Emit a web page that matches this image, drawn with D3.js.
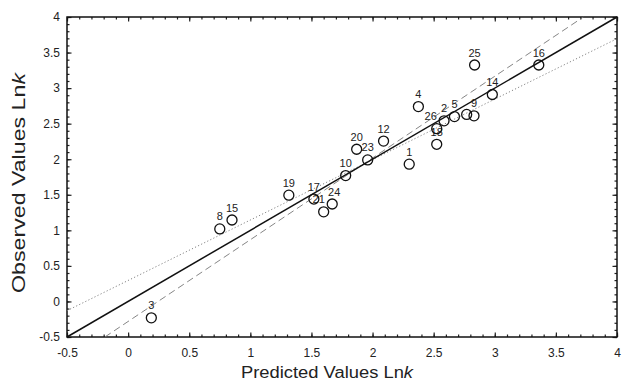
<!DOCTYPE html>
<html>
<head>
<meta charset="utf-8">
<script src="https://cdn.jsdelivr.net/npm/d3@7"></script>
<style>
  body { margin: 0; background: #fff; }
  svg { display: block; font-family: "Liberation Sans", Arial, sans-serif; }
  .tick text { fill: #222; }
</style>
</head>
<body>
<svg id="chart"></svg>
<script>
// point ids (label text), predicted Lnk (x), observed Lnk (y)
var ids       = ["1", "2", "3", "4", "5", "8", "9", "", "10", "12", "14", "15", "16", "17", "18", "19", "20", "21", "23", "24", "25", "26"];
var predicted = [2.30, 2.585, 0.19, 2.375, 2.67, 0.75, 2.83, 2.77, 1.78, 2.09, 2.98, 0.85, 3.36, 1.52, 2.525, 1.315, 1.87, 1.60, 1.96, 1.67, 2.835, 2.525];
var observed  = [1.93, 2.54, -0.23, 2.74, 2.60, 1.02, 2.61, 2.63, 1.77, 2.255, 2.91, 1.145, 3.325, 1.44, 2.21, 1.495, 2.14, 1.26, 1.99, 1.37, 3.325, 2.43];

// reference lines: [x1, y1, x2, y2]
var fitLine    = [-0.5, -0.5, 4, 4];
var dashedLine = [-0.19, -0.5, 3.725, 4];
var dottedLine = [-0.5, -0.13, 4, 3.695];

var xTicks = [-0.5, 0, 0.5, 1, 1.5, 2, 2.5, 3, 3.5, 4];
var yTicks = [-0.5, 0, 0.5, 1, 1.5, 2, 2.5, 3, 3.5, 4];
var minorTicks = d3.range(-5, 41).map(d => d / 10);

// a few crowded labels are nudged sideways (px)
var labelNudge = {"26": -6, "21": -5, "24": 2};

var width = 622, height = 382;
var margin = {top: 17, right: 5, bottom: 45, left: 67};
var w = width - margin.left - margin.right;
var h = height - margin.top - margin.bottom;

var svg = d3.select("#chart").attr("width", width).attr("height", height);
var g = svg.append("g").attr("transform", `translate(${margin.left},${margin.top})`);

var x = d3.scaleLinear().domain([-0.5, 4]).range([0, w]);
var y = d3.scaleLinear().domain([-0.5, 4]).range([h, 0]);

// minor ticks on all four sides, pointing inward
function minor(axis) { return axis.tickValues(minorTicks).tickSize(-2.5).tickFormat(""); }
g.append("g").attr("transform", `translate(0,${h})`).call(minor(d3.axisBottom(x)));
g.append("g").call(minor(d3.axisTop(x)));
g.append("g").call(minor(d3.axisLeft(y)));
g.append("g").attr("transform", `translate(${w},0)`).call(minor(d3.axisRight(y)));

// major ticks with labels
g.append("g").attr("class", "x_axis_g").attr("transform", `translate(0,${h})`)
  .call(d3.axisBottom(x).tickValues(xTicks).tickSize(-4.5).tickPadding(11).tickFormat(d => String(d)))
  .style("font-size", "12px").style("font-family", "Liberation Sans, Arial, sans-serif");
g.append("g").attr("class", "y_axis_g")
  .call(d3.axisLeft(y).tickValues(yTicks).tickSize(-4.5).tickPadding(7).tickFormat(d => String(d)))
  .style("font-size", "12px").style("font-family", "Liberation Sans, Arial, sans-serif");
g.append("g").call(d3.axisTop(x).tickValues(xTicks).tickSize(-4.5).tickFormat(""));
g.append("g").attr("transform", `translate(${w},0)`).call(d3.axisRight(y).tickValues(yTicks).tickSize(-4.5).tickFormat(""));

g.selectAll(".domain").remove();
g.selectAll(".tick line").attr("stroke", "#222").attr("stroke-width", 1.2);

// frame
g.append("rect").attr("width", w).attr("height", h)
  .attr("fill", "none").attr("stroke", "#111").attr("stroke-width", 1.5);

// lines
function drawLine(d, stroke, sw, dash) {
  g.append("line")
    .attr("x1", x(d[0])).attr("y1", y(d[1]))
    .attr("x2", x(d[2])).attr("y2", y(d[3]))
    .attr("stroke", stroke).attr("stroke-width", sw)
    .attr("stroke-dasharray", dash);
}
drawLine(dashedLine, "#777", 0.9, "7,4");
drawLine(dottedLine, "#777", 0.9, "1.2,2.2");
drawLine(fitLine, "#111", 1.5, null);

// points
var points = ids.map((id, i) => ({id: id, px: predicted[i], ob: observed[i]}));

g.selectAll(".pt_label")
  .data(points)
  .join("text")
  .attr("class", "pt_label")
  .attr("x", d => x(d.px) + (labelNudge[d.id] || 0))
  .attr("y", d => y(d.ob) - 8.5)
  .attr("text-anchor", "middle")
  .style("font-size", "11px")
  .style("fill", "#222")
  .text(d => d.id);

g.selectAll("circle")
  .data(points)
  .join("circle")
  .attr("cx", d => x(d.px))
  .attr("cy", d => y(d.ob))
  .attr("r", 5)
  .attr("fill", "none")
  .attr("stroke", "#111")
  .attr("stroke-width", 1.3);

// axis titles
var xTitle = svg.append("text")
  .attr("x", 327).attr("y", 378)
  .attr("text-anchor", "middle")
  .attr("textLength", 172).attr("lengthAdjust", "spacingAndGlyphs")
  .style("font-size", "16px").style("fill", "#222");
xTitle.append("tspan").text("Predicted Values Ln");
xTitle.append("tspan").style("font-style", "italic").text("k");

var yTitle = svg.append("text")
  .attr("transform", "translate(25,183) rotate(-90)")
  .attr("text-anchor", "middle")
  .attr("textLength", 220).attr("lengthAdjust", "spacingAndGlyphs")
  .style("font-size", "18px").style("fill", "#222");
yTitle.append("tspan").text("Observed Values Ln");
yTitle.append("tspan").style("font-style", "italic").text("k");
</script>
</body>
</html>
